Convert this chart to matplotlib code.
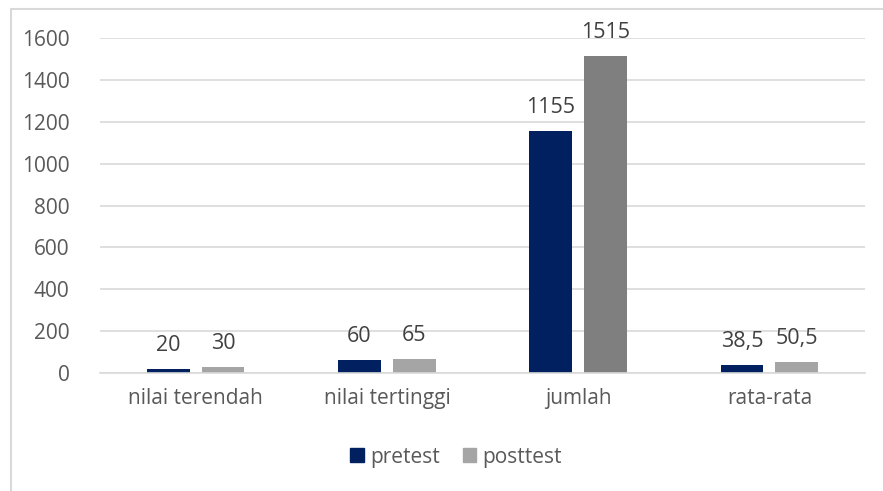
import numpy as np
import matplotlib.pyplot as plt
from matplotlib.patches import Patch, Rectangle

# data
categories = ["nilai terendah", "nilai tertinggi", "jumlah", "rata-rata"]
pretest = [20, 60, 1155, 38.5]
posttest = [30, 65, 1515, 50.5]
pre_labels = ["20", "60", "1155", "38,5"]
post_labels = ["30", "65", "1515", "50,5"]

plt.rcParams['font.family'] = ['Open Sans', 'DejaVu Sans']

navy = "#002060"
light_gray = "#a5a5a5"
dark_gray = "#7f7f7f"
post_colors = [light_gray, light_gray, dark_gray, light_gray]

fig = plt.figure(figsize=(8.83, 4.91), dpi=100)
ax = fig.add_axes([100/883, 118/491, 765/883, 335/491])

x = np.arange(len(categories))
w = 0.223
off = 0.143
b1 = ax.bar(x - off, pretest, w, color=navy)
b2 = ax.bar(x + off, posttest, w, color=post_colors)

for bars, labs in ((b1, pre_labels), (b2, post_labels)):
    for bar, lab in zip(bars, labs):
        ax.annotate(lab, (bar.get_x() + bar.get_width()/2, bar.get_height()),
                    xytext=(0, 13), textcoords="offset points",
                    ha="center", va="baseline", fontsize=15.5, color="#404040")

ax.set_xlim(-0.5, 3.5)
ax.set_ylim(0, 1600)
ax.set_yticks(range(0, 1601, 200))
ax.set_xticks(x)
ax.set_xticklabels(categories)
ax.yaxis.grid(True, color="#d9d9d9", linewidth=1.2)
ax.set_axisbelow(True)
for s in ["top", "right", "left"]:
    ax.spines[s].set_visible(False)
ax.spines["bottom"].set_color("#d9d9d9")
ax.spines["bottom"].set_linewidth(1.2)
ax.tick_params(axis="both", length=0, labelsize=15, colors="#595959")
ax.tick_params(axis="y", pad=22)
ax.tick_params(axis="x", pad=11)

handles = [Patch(color=navy, label="pretest"), Patch(color=light_gray, label="posttest")]
fig.legend(handles=handles, loc="center", bbox_to_anchor=(456/883, 1 - 457/491),
           ncol=2, frameon=False, fontsize=15, handlelength=0.65, handleheight=0.65,
           handletextpad=0.3, columnspacing=1.1, labelcolor="#595959")

# chart border (only top and left are inside the picture)
fig.patches.append(Rectangle((11/883, -0.1), 1.2, 1 - 9/491 + 0.1, transform=fig.transFigure,
                             fill=False, edgecolor="#d9d9d9", linewidth=1.5))

fig.savefig("out.png", dpi=100)
